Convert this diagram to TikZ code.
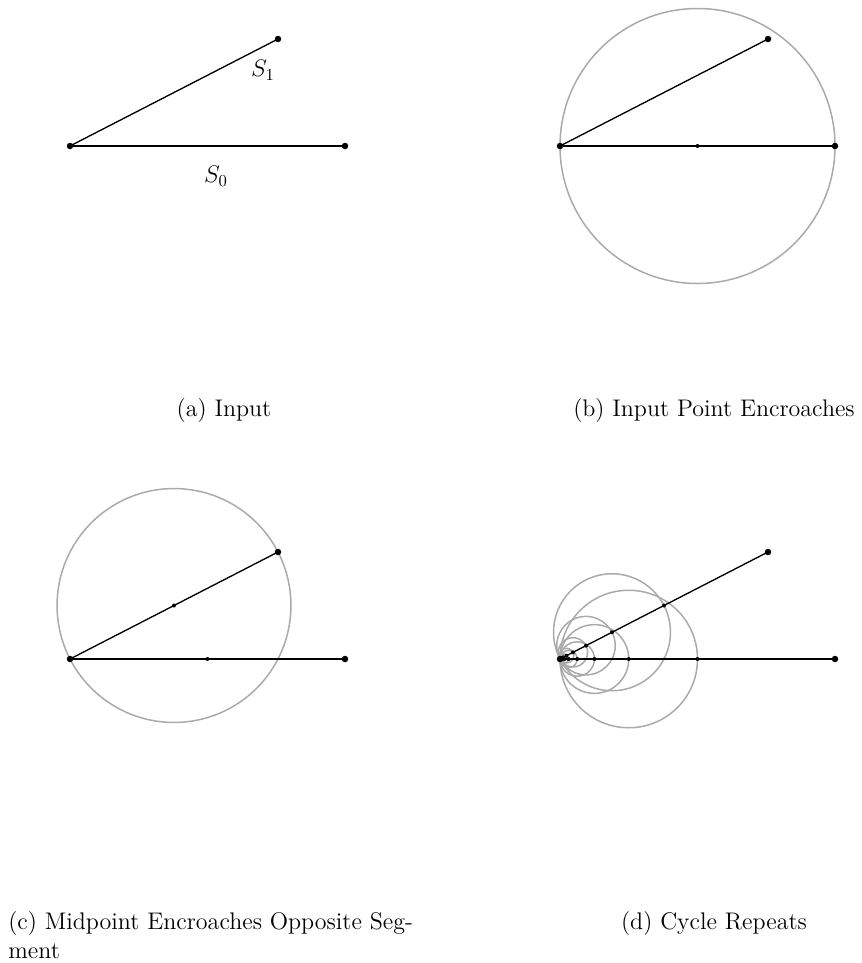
\documentclass[tikz,border=0pt]{standalone}
\usetikzlibrary{calc}
\definecolor{cgray}{RGB}{170,170,170}
\begin{document}
\begin{tikzpicture}[x=0.6pt,y=-0.6pt,
  seg/.style={line width=0.8pt,line cap=round},
  circ/.style={draw=cgray,line width=0.9pt},
  endpt/.style={circle,fill=black,inner sep=0pt,minimum size=3.9pt},
  midpt/.style={circle,fill=black,inner sep=0pt,minimum size=2.4pt},
  caption/.style={font=\fontsize{14.4}{17.3}\selectfont,inner sep=0pt},
  lbl/.style={font=\fontsize{14.4}{17.3}\selectfont,inner sep=0pt}]
\useasboundingbox (0,0) rectangle (861,963);
% ---------- (a) ----------
\begin{scope}[name prefix=a-]
  \coordinate (O) at (70,146);
  \coordinate (A) at (345,146);
  \coordinate (B) at (278,39);
  \draw[seg] (O) -- (A);
  \draw[seg] (O) -- (B);
  \node[endpt] (dO) at (O) {};
  \node[endpt] (dA) at (A) {};
  \node[endpt] (dB) at (B) {};
  \node[lbl] (S1) at (263,70) {$S_1$};
  \node[lbl] (S0) at (216,176) {$S_0$};
  \node[caption,anchor=base] (cap) at (224,416) {(a) Input};
\end{scope}
% ---------- (b) ----------
\begin{scope}[name prefix=b-]
  \coordinate (O) at (560,146);
  \coordinate (A) at (835,146);
  \coordinate (B) at (768,39);
  \coordinate (M) at ($(O)!0.5!(A)$);
  \draw[circ] (M) circle[radius=137.5];
  \draw[seg] (O) -- (A);
  \draw[seg] (O) -- (B);
  \node[endpt] (dO) at (O) {};
  \node[endpt] (dA) at (A) {};
  \node[endpt] (dB) at (B) {};
  \node[midpt] (dM) at (M) {};
  \node[caption,anchor=base] (cap) at (714,416) {(b) Input Point Encroaches};
\end{scope}
% ---------- (c) ----------
\begin{scope}[name prefix=c-]
  \coordinate (O) at (70,659);
  \coordinate (A) at (345,659);
  \coordinate (B) at (278,552);
  \coordinate (MA) at ($(O)!0.5!(A)$);
  \coordinate (MB) at ($(O)!0.5!(B)$);
  \draw[circ] (MB) circle[radius=116.95];
  \draw[seg] (O) -- (A);
  \draw[seg] (O) -- (B);
  \node[endpt] (dO) at (O) {};
  \node[endpt] (dA) at (A) {};
  \node[endpt] (dB) at (B) {};
  \node[midpt] (dMA) at (MA) {};
  \node[midpt] (dMB) at (MB) {};
  \node[caption,anchor=base west] (cap) at (8,929) {(c) Midpoint Encroaches Opposite Seg-};
  \node[caption,anchor=base west] (cap2) at (8,958) {ment};
\end{scope}
% ---------- (d) ----------
\begin{scope}[name prefix=d-]
  \coordinate (O) at (560,659);
  \coordinate (A) at (835,659);
  \coordinate (B) at (768,552);
  \foreach \k in {1,...,7}{
    \pgfmathsetmacro\f{1/2^\k}
    \draw[circ] ($(O)!\f/2!(A)$) circle[radius=137.5*\f];
    \draw[circ] ($(O)!\f/2!(B)$) circle[radius=116.95*\f];
  }
  \draw[seg] (O) -- (A);
  \draw[seg] (O) -- (B);
  \foreach \k in {1,...,7}{
    \pgfmathsetmacro\f{1/2^\k}
    \node[midpt] (mA\k) at ($(O)!\f!(A)$) {};
    \node[midpt] (mB\k) at ($(O)!\f!(B)$) {};
  }
  \node[endpt] (dO) at (O) {};
  \node[endpt] (dA) at (A) {};
  \node[endpt] (dB) at (B) {};
  \node[caption,anchor=base] (cap) at (714,929) {(d) Cycle Repeats};
\end{scope}
\end{tikzpicture}
\end{document}
